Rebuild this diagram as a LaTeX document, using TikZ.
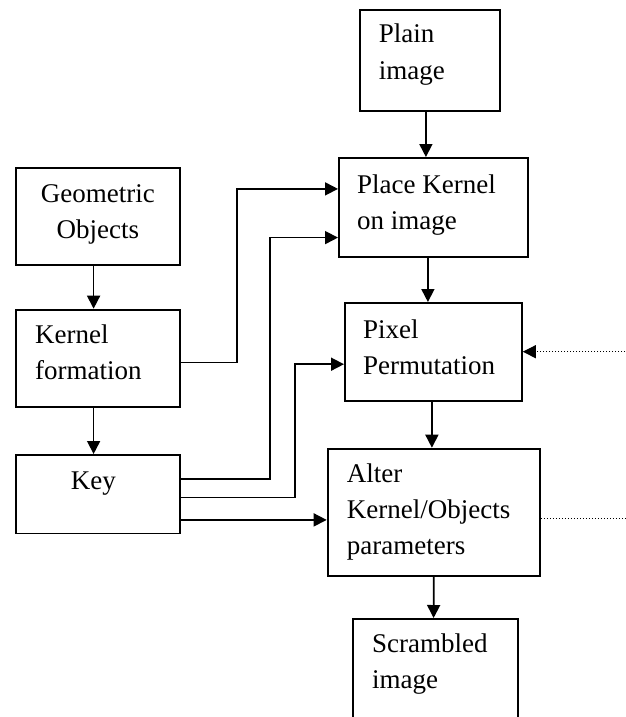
\documentclass[tikz,border=0pt]{standalone}
\usepackage{fontspec}
\setmainfont{Liberation Serif}
\usetikzlibrary{arrows.meta}
\begin{document}
\begin{tikzpicture}[x=1pt,y=-1pt,
 box/.style={draw, line width=1.8pt, inner sep=0pt, anchor=north west},
 lbl/.style={anchor=base west, inner sep=0pt, font=\fontsize{27}{36}\selectfont},
 tip/.style={-{Triangle[length=13pt,width=13pt]}},
 arr/.style={line width=1.7pt, tip},
 dot/.style={line width=1pt, dash pattern=on 1pt off 2pt}]
\useasboundingbox (0,0) rectangle (625,717);
% boxes
\node[box, minimum width=140.6pt, minimum height=101pt] (plain) at (358.7,9) {};
\node[box, minimum width=189pt, minimum height=98.7pt] (place) at (338,157) {};
\node[box, minimum width=177pt, minimum height=98pt] (pixel) at (344,302) {};
\node[box, minimum width=212.3pt, minimum height=127.3pt] (alter) at (326.7,447.7) {};
\node[box, minimum width=165pt, minimum height=142pt] (scr) at (352,618) {};
\node[box, minimum width=164.3pt, minimum height=97pt] (geo) at (14.7,167) {};
\node[box, minimum width=164.3pt, minimum height=97.3pt] (kern) at (14.7,308.7) {};
\node[box, minimum width=164.3pt, minimum height=78.5pt] (key) at (14.7,454) {};
% texts
\node[lbl] (plaint) at (378.7,43) {\vtop{\hbox{Plain}\hbox{image}}};
\node[lbl] (placet) at (357,193) {\vtop{\hbox{Place Kernel}\hbox{on image}}};
\node[lbl] (pixelt) at (363,338) {\vtop{\hbox{Pixel}\hbox{Permutation}}};
\node[lbl] (altert) at (346.7,482) {\vtop{\hbox{Alter}\hbox{Kernel/Objects}\hbox{parameters}}};
\node[lbl] (scrt) at (372,652) {\vtop{\hbox{Scrambled}\hbox{image}}};
\node[lbl] (geot) at (40.7,202) {\vtop{\halign{\hfil#\hfil\cr Geometric\cr Objects\cr}}};
\node[lbl] (kernt) at (35,343) {\vtop{\hbox{Kernel}\hbox{formation}}};
\node[lbl] (keyt) at (70.7,489) {Key};
% vertical flow
\draw[arr] ([xshift=-4pt]plain.south) -- ([xshift=-7.5pt]place.north);
\draw[arr] ([xshift=-5.5pt]place.south) -- ([xshift=-5.5pt]pixel.north);
\draw[arr] ([xshift=-1.5pt]pixel.south) -- ([xshift=-1.85pt]alter.north);
\draw[arr] ([xshift=0pt]alter.south) -- ([xshift=-1.8pt]scr.north);
\draw[arr] ([xshift=-4.15pt]geo.south) -- ([xshift=-4.15pt]kern.north);
\draw[arr] ([xshift=-4.15pt]kern.south) -- ([xshift=-4.15pt]key.north);
% side connectors
\draw[arr] ([yshift=-4.35pt]kern.east) -- ++(56.3,0) |- ([yshift=18.35pt]place.west);
\draw[arr] ([yshift=15.5pt]key.east) -- ++(89.5,0) |- ([yshift=-30.35pt]place.west);
\draw[arr] ([yshift=-3.45pt]key.east) -- ++(114,0) |- ([yshift=-12.3pt]pixel.west);
\coordinate (k3) at ([yshift=-25.75pt]key.east);
\draw[arr] (k3) -- (k3 -| alter.west);
% dotted inputs
\coordinate (rd1) at (625,351.7);
\draw[dot, tip] (rd1) -- (rd1 -| pixel.east);
\coordinate (rd2) at (625,518.5);
\draw[dot] (alter.east |- rd2) -- (rd2);
\end{tikzpicture}
\end{document}
